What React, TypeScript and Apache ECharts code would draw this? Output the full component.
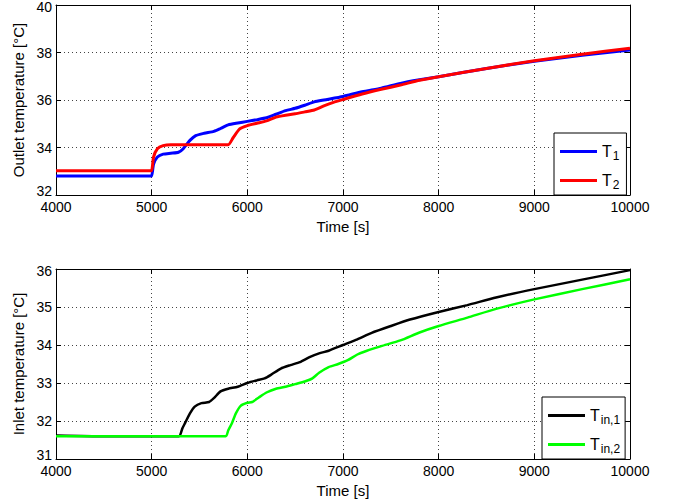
import React, { useEffect, useRef } from "react";
import * as echarts from "echarts";

const t1Times = [4000, 4990, 5000, 5020, 5060, 5120, 5200, 5280, 5330, 5400, 5460, 5550, 5650, 5720, 5800, 5900, 6000, 6100, 6200, 6300, 6400, 6500, 6600, 6700, 6800, 7000, 7200, 7400, 7600, 7800, 8000, 8500, 9000, 9500, 10000];
const t1Values = [32.8, 32.8, 32.8, 33.3, 33.6, 33.72, 33.76, 33.8, 33.95, 34.3, 34.5, 34.6, 34.68, 34.8, 34.95, 35.03, 35.1, 35.17, 35.25, 35.4, 35.55, 35.65, 35.78, 35.92, 36.0, 36.15, 36.35, 36.5, 36.7, 36.85, 36.98, 37.33, 37.63, 37.88, 38.1];

const t2Times = [4000, 4990, 5000, 5020, 5060, 5120, 5200, 5800, 5850, 5920, 6000, 6100, 6200, 6300, 6400, 6500, 6600, 6700, 6800, 6900, 7000, 7200, 7400, 7600, 7800, 8000, 8500, 9000, 9500, 10000];
const t2Values = [33.02, 33.02, 33.02, 33.6, 33.95, 34.08, 34.12, 34.12, 34.4, 34.78, 34.92, 35.02, 35.12, 35.28, 35.36, 35.42, 35.5, 35.58, 35.75, 35.9, 36.02, 36.25, 36.45, 36.63, 36.83, 36.98, 37.33, 37.65, 37.93, 38.18];

const tin1Times = [4000, 4500, 5285, 5320, 5350, 5400, 5450, 5520, 5600, 5650, 5720, 5800, 5900, 6000, 6100, 6180, 6250, 6350, 6450, 6550, 6650, 6750, 6850, 7000, 7150, 7300, 7500, 7700, 8000, 8300, 8600, 9000, 9500, 10000];
const tin1Values = [31.62, 31.6, 31.6, 31.8, 31.95, 32.2, 32.38, 32.47, 32.5, 32.6, 32.78, 32.85, 32.9, 33.0, 33.07, 33.12, 33.22, 33.38, 33.47, 33.55, 33.68, 33.78, 33.85, 34.0, 34.15, 34.32, 34.5, 34.67, 34.87, 35.05, 35.25, 35.47, 35.72, 35.97];

const tin2Times = [4000, 5775, 5800, 5840, 5880, 5930, 6000, 6050, 6120, 6200, 6300, 6400, 6500, 6600, 6680, 6750, 6850, 6950, 7050, 7150, 7250, 7400, 7600, 7800, 8000, 8300, 8600, 9000, 9500, 10000];
const tin2Values = [31.6, 31.6, 31.75, 31.95, 32.2, 32.4, 32.48, 32.5, 32.62, 32.75, 32.85, 32.9, 32.97, 33.04, 33.12, 33.27, 33.42, 33.5, 33.6, 33.75, 33.85, 33.97, 34.12, 34.33, 34.5, 34.72, 34.95, 35.2, 35.47, 35.73];

const seriesNames = ["T1", "T2", "Tin1", "Tin2"];
const seriesSubs = ["1", "2", "in,1", "in,2"];
const seriesColors = ["#0000ff", "#ff0000", "#000000", "#00ff00"];

const xMin = 4000;
const xMax = 10000;
const xInterval = 1000;
const topYMin = 32;
const topYMax = 40;
const topYInterval = 2;
const botYMin = 31;
const botYMax = 36;
const botYInterval = 1;

const xName = "Time [s]";
const topYName = "Outlet temperature [°C]";
const botYName = "Inlet temperature [°C]";

const FONT = "Liberation Sans, Arial, Helvetica, sans-serif";

function zip(xs: number[], ys: number[]) {
  return xs.map((x, i) => [x, ys[i]]);
}

export default function App() {
  const ref = useRef<HTMLDivElement>(null);
  useEffect(() => {
    if (!ref.current) return;
    const chart = echarts.init(ref.current, undefined, { renderer: "svg" });
    const grids = [
      { left: 56, right: 45, top: 5, height: 190 },
      { left: 56, right: 45, top: 269, height: 190 },
    ];
    const splitLine = { show: true, lineStyle: { color: "#444", type: [1, 3] as any, width: 1 } };
    const axisLine = { show: true, lineStyle: { color: "#000", width: 1 } };
    const axisTick = { show: true, inside: true, length: 5, lineStyle: { color: "#000" } };
    const labelStyle = { color: "#000", fontSize: 14, fontFamily: FONT };
    const nameStyle = { color: "#000", fontSize: 15, fontFamily: FONT };

    const xAxes: any[] = [];
    const yAxes: any[] = [];
    [0, 1].forEach((g) => {
      xAxes.push({
        type: "value", gridIndex: g, min: xMin, max: xMax, interval: xInterval,
        position: "bottom", axisLine, axisTick, splitLine,
        axisLabel: { ...labelStyle, margin: 5, formatter: (v: number) => String(v) },
        name: xName, nameLocation: "middle", nameGap: 24, nameTextStyle: nameStyle,
      });
      xAxes.push({
        type: "value", gridIndex: g, min: xMin, max: xMax, interval: xInterval,
        position: "top", axisLine, axisTick, splitLine: { show: false },
        axisLabel: { show: false },
      });
      const yMin = g === 0 ? topYMin : botYMin;
      const yMax = g === 0 ? topYMax : botYMax;
      const yInt = g === 0 ? topYInterval : botYInterval;
      yAxes.push({
        type: "value", gridIndex: g, min: yMin, max: yMax, interval: yInt,
        position: "left", axisLine, axisTick, splitLine,
        axisLabel: {
          ...labelStyle, margin: 4,
          formatter: (v: number) => (v === yMin ? "{lo|" + v + "}" : v === yMax ? "{hi|" + v + "}" : String(v)),
          rich: {
            lo: { fontSize: 14, fontFamily: FONT, color: "#000", padding: [0, 0, 8, 0] },
            hi: { fontSize: 14, fontFamily: FONT, color: "#000", padding: [4, 0, 0, 0] },
          },
        },
        name: g === 0 ? topYName : botYName, nameLocation: "middle", nameGap: 28,
        nameTextStyle: nameStyle,
      });
      yAxes.push({
        type: "value", gridIndex: g, min: yMin, max: yMax, interval: yInt,
        position: "right", axisLine, axisTick, splitLine: { show: false },
        axisLabel: { show: false },
      });
    });

    const datas = [
      zip(t1Times, t1Values),
      zip(t2Times, t2Values),
      zip(tin1Times, tin1Values),
      zip(tin2Times, tin2Values),
    ];
    const series = datas.map((d, i) => ({
      name: seriesNames[i],
      type: "line",
      xAxisIndex: i < 2 ? 0 : 2,
      yAxisIndex: i < 2 ? 0 : 2,
      data: d,
      symbol: "none",
      smooth: 0.2,
      lineStyle: { color: seriesColors[i], width: i < 2 ? 3 : 2.5 },
      itemStyle: { color: seriesColors[i] },
      z: i === 0 || i === 2 ? 3 : 4,
    }));

    const rich = {
      m: { fontSize: 16, fontFamily: FONT, color: "#000", lineHeight: 21 },
      s: { fontSize: 12, fontFamily: FONT, color: "#000", lineHeight: 21, verticalAlign: "bottom", padding: [12, 0, 0, 1] },
    };
    const fmt = (name: string) => {
      const i = seriesNames.indexOf(name);
      return "{m|T}{s|" + seriesSubs[i] + "}";
    };
    const legendBase = {
      orient: "vertical",
      icon: "rect",
      itemWidth: 37,
      itemHeight: 3,
      itemGap: 5,
      borderColor: "#000",
      borderWidth: 1,
      backgroundColor: "#fff",
      borderRadius: 0,
      formatter: fmt,
      textStyle: { rich, color: "#000" },
      selectedMode: false,
    };

    chart.setOption({
      animation: false,
      backgroundColor: "#fff",
      grid: grids,
      xAxis: xAxes,
      yAxis: yAxes,
      legend: [
        { ...legendBase, data: ["T1", "T2"], left: 554, top: 133, padding: [5, 7, 4, 6] },
        { ...legendBase, data: ["Tin1", "Tin2"], left: 542, top: 397, padding: [5, 5, 4, 6] },
      ],
      series,
    });
    return () => chart.dispose();
  }, []);
  return <div ref={ref} style={{ position: "fixed", left: 0, top: 0, width: 675, height: 499 }} />;
}
